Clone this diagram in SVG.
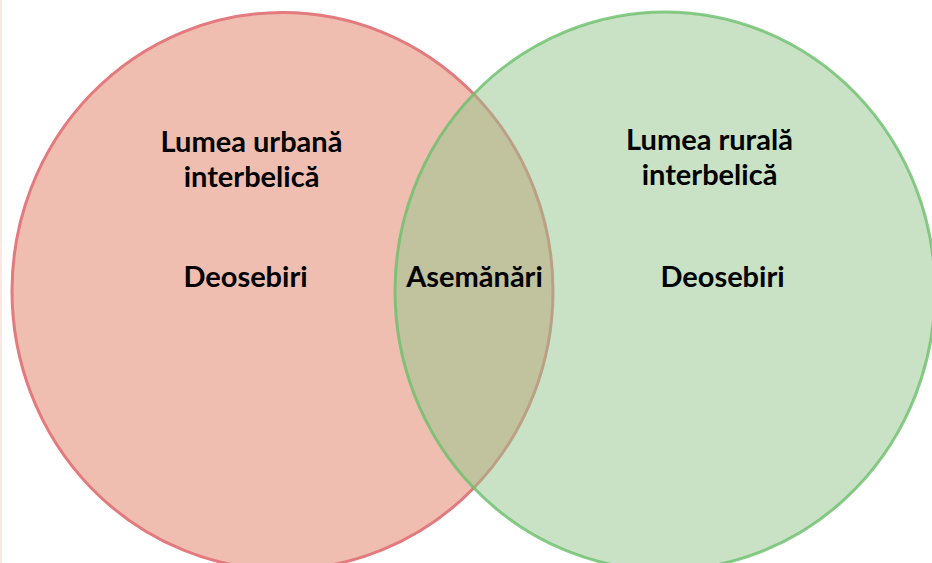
<svg xmlns="http://www.w3.org/2000/svg" width="932" height="563" viewBox="0 0 932 563">
<style>
.lbl{font-family:Lato,"Open Sans","Liberation Sans",sans-serif;font-weight:bold;font-size:29px;fill:#000;text-anchor:middle}
</style>
<rect x="0" y="0" width="932" height="563" fill="#ffffff"/>
<rect x="0" y="0" width="2" height="563" fill="#FCEAE2"/>
<g id="urban">
<ellipse cx="282.5" cy="291" rx="270.5" ry="278.5" fill="#EFBEB0" stroke="#E27A7E" stroke-width="3"/>
<text class="lbl" x="251.5" y="152">Lumea urbană</text>
<text class="lbl" x="251.5" y="187">interbelică</text>
<text class="lbl" x="245.5" y="287">Deosebiri</text>
</g>
<g id="rural">
<ellipse cx="665" cy="291" rx="270" ry="279" fill="#93C58B" fill-opacity="0.5" stroke="#6CBF6B" stroke-opacity="0.8" stroke-width="3"/>
<text class="lbl" x="709.5" y="150">Lumea rurală</text>
<text class="lbl" x="709.5" y="185">interbelică</text>
<text class="lbl" x="722.5" y="287">Deosebiri</text>
</g>
<g id="overlap">
<text class="lbl" x="474.5" y="287">Asemănări</text>
</g>
<g id="connectors"></g>
</svg>
